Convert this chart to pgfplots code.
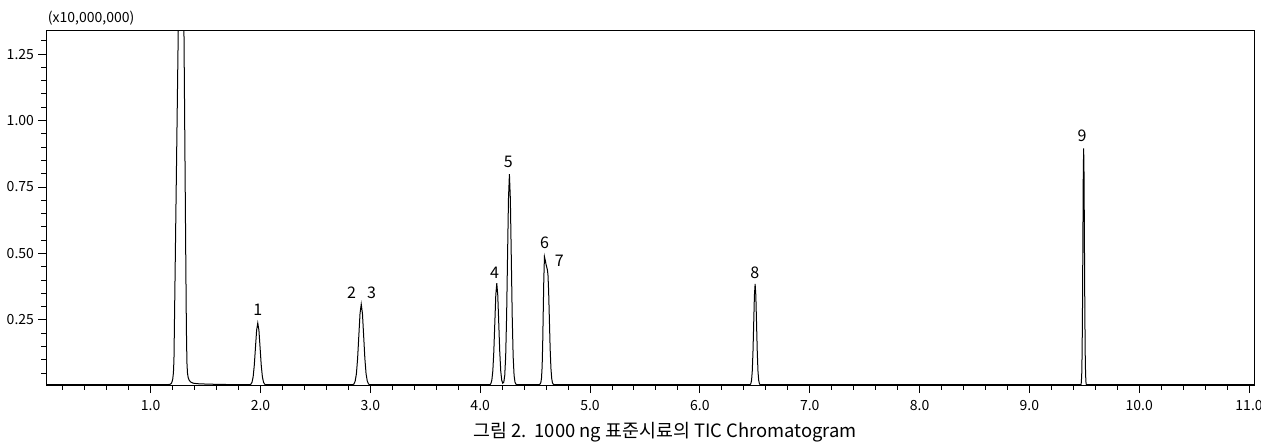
\documentclass[border=0pt]{standalone}
\usepackage{fontspec}
\setmainfont{Noto Sans CJK KR}
\usepackage{pgfplots}
\pgfplotsset{compat=1.18}
\begin{document}
\begin{tikzpicture}
\begin{axis}[
  scale only axis,
  width=604pt, height=177pt,
  xmin=0.047, xmax=11.045,
  ymin=0.005, ymax=1.337,
  axis line style={line width=0.5pt, black},
  tick align=outside,
  xtick pos=left, ytick pos=left,
  xtick={1,2,3,4,5,6,7,8,9,10,11},
  minor xtick={0.2,0.4,0.6,0.8,1.2,1.4,1.6,1.8,2.2,2.4,2.6,2.8,3.2,3.4,3.6,3.8,4.2,4.4,4.6,4.8,5.2,5.4,5.6,5.8,6.2,6.4,6.6,6.8,7.2,7.4,7.6,7.8,8.2,8.4,8.6,8.8,9.2,9.4,9.6,9.8,10.2,10.4,10.6,10.8},
  ytick={0.25,0.5,0.75,1.0,1.25},
  minor ytick={0.05,0.10,0.15,0.20,0.30,0.35,0.40,0.45,0.55,0.60,0.65,0.70,0.80,0.85,0.90,0.95,1.05,1.10,1.15,1.20,1.30},
  major tick length=4pt, minor tick length=2.4pt,
  every tick/.style={black, line width=0.5pt},
  xticklabel style={/pgf/number format/.cd, fixed, fixed zerofill, precision=1, assume math mode=true},
  yticklabel style={xshift=1.5pt, /pgf/number format/.cd, fixed, fixed zerofill, precision=2, assume math mode=true},
  tick label style={font=\fontsize{7}{8}\selectfont},
  clip=true,
]
\addplot[black, line width=0.5pt] table {
x y
0.05 0.006
1.15 0.006
1.18 0.008
1.19 0.012
1.20 0.025
1.207 0.05
1.212 0.10
1.220 0.35
1.251 1.336
1.283 2.35
1.303 1.336
1.320 0.46
1.325 0.22
1.330 0.09
1.335 0.05
1.342 0.032
1.352 0.022
1.365 0.016
1.385 0.012
1.42 0.010
1.47 0.009
1.55 0.008
1.65 0.007
1.80 0.0065
1.90 0.006
1.912 0.008
1.9225 0.015
1.933 0.036
1.9435 0.080
1.954 0.146
1.9645 0.211
1.975 0.238
1.9855 0.211
1.996 0.146
2.0065 0.080
2.017 0.036
2.0275 0.015
2.038 0.008
2.0485 0.006
2.840 0.006
2.851 0.009
2.862 0.020
2.873 0.047
2.884 0.105
2.895 0.190
2.906 0.274
2.917 0.309
2.928 0.274
2.939 0.190
2.950 0.105
2.961 0.047
2.972 0.020
2.983 0.009
2.994 0.006
4.088 0.006
4.097 0.010
4.106 0.023
4.115 0.058
4.124 0.131
4.133 0.237
4.142 0.343
4.151 0.388
4.160 0.343
4.169 0.237
4.178 0.131
4.187 0.058
4.196 0.023
4.205 0.012
4.2150 0.016
4.2235 0.041
4.232 0.113
4.2405 0.264
4.249 0.488
4.2575 0.706
4.266 0.798
4.2745 0.706
4.283 0.488
4.2915 0.264
4.300 0.113
4.3085 0.041
4.317 0.015
4.3255 0.008
4.335 0.006
4.530 0.006
4.545 0.008
4.552 0.014
4.558 0.030
4.564 0.075
4.569 0.16
4.574 0.28
4.579 0.40
4.585 0.488
4.592 0.475
4.600 0.458
4.607 0.446
4.612 0.438
4.617 0.420
4.623 0.360
4.630 0.250
4.637 0.140
4.644 0.068
4.651 0.030
4.658 0.013
4.667 0.007
4.680 0.006
6.4575 0.006
6.464 0.010
6.4705 0.023
6.477 0.057
6.4835 0.130
6.490 0.236
6.4965 0.342
6.503 0.385
6.5095 0.342
6.516 0.236
6.5225 0.130
6.529 0.057
6.5355 0.023
6.542 0.010
6.5485 0.006
9.4695 0.006
9.473 0.016
9.4765 0.045
9.480 0.127
9.4835 0.297
9.487 0.549
9.4905 0.796
9.494 0.895
9.4975 0.796
9.501 0.549
9.5045 0.297
9.508 0.127
9.5115 0.045
9.515 0.016
9.5185 0.006
11.045 0.006
};
\begin{scope}[every node/.style={font=\fontsize{8}{9}\selectfont, inner sep=0pt}]
\node at (axis cs:1.975,0.288) {1};
\node at (axis cs:2.83,0.351) {2};
\node at (axis cs:3.012,0.351) {3};
\node at (axis cs:4.13,0.427) {4};
\node at (axis cs:4.257,0.844) {5};
\node at (axis cs:4.585,0.540) {6};
\node at (axis cs:4.72,0.472) {7};
\node at (axis cs:6.50,0.427) {8};
\node at (axis cs:9.48,0.942) {9};
\end{scope}
\end{axis}
\node[anchor=west, inner sep=0pt, font=\fontsize{7}{8}\selectfont] at (0.8pt,183.5pt) {(x10,000,000)};
\node[inner sep=0pt, font=\fontsize{9.2}{10}\selectfont] at (309.5pt,-23.5pt) {그림 2.\ \ 1000 ng 표준시료의 TIC Chromatogram};
\pgfresetboundingbox
\path[use as bounding box] (-23pt,-29.5pt) rectangle (607.5pt,192.5pt);
\end{tikzpicture}
\end{document}
